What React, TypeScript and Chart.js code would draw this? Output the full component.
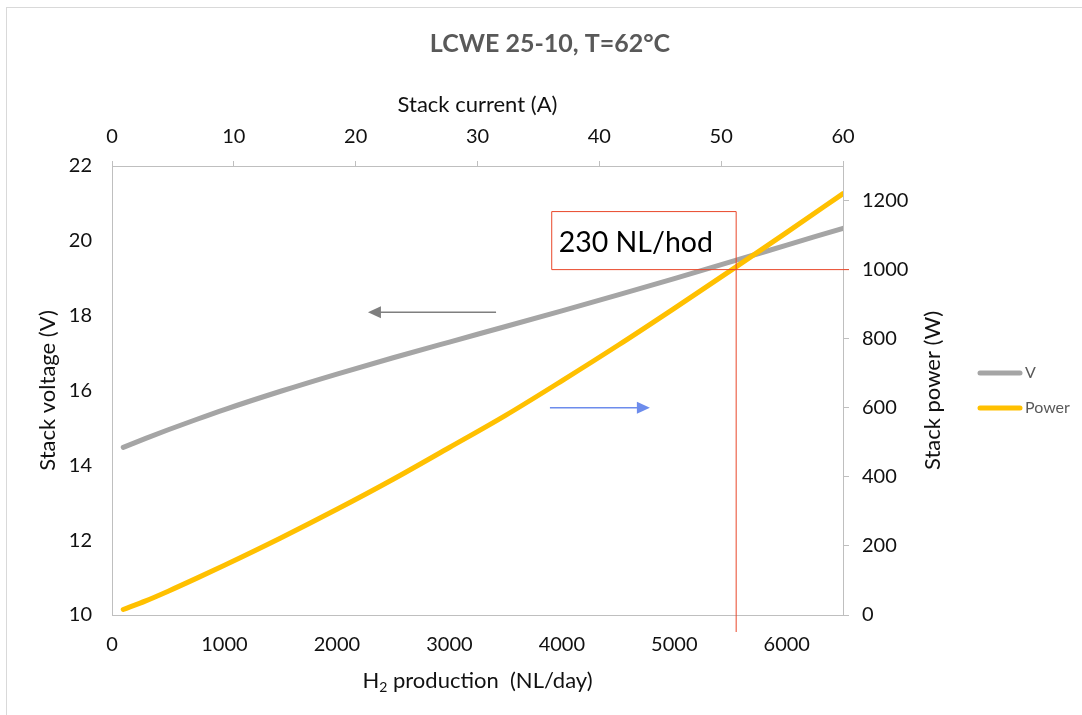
import React, { useEffect, useRef } from 'react';
import { Chart, registerables } from 'chart.js';

Chart.register(...registerables);

// ---- data ----
const h2Production = [100, 300, 500, 750, 1000, 1500, 2000, 2500, 3000, 3500, 4000, 4500, 5000, 5500, 6000, 6500];
const stackVoltage = [14.48, 14.72, 14.95, 15.225, 15.49, 15.98, 16.44, 16.875, 17.295, 17.71, 18.13, 18.555, 18.99, 19.435, 19.885, 20.335];
const stackPower = [16, 41, 69, 106, 144, 223, 306, 393, 485, 578, 678, 781, 888, 997, 1108, 1220];

const h2Ticks = [0, 1000, 2000, 3000, 4000, 5000, 6000];
const currentTicks = [0, 10, 20, 30, 40, 50, 60];
const voltageTicks = [10, 12, 14, 16, 18, 20, 22];
const powerTicks = [0, 200, 400, 600, 800, 1000, 1200];

const seriesLabels = ['V', 'Power'];
const titleText = 'LCWE 25-10, T=62°C';
const topAxisTitle = 'Stack current (A)';
const leftAxisTitle = 'Stack voltage (V)';
const rightAxisTitle = 'Stack power (W)';
const bottomAxisTitleMain = 'H';
const bottomAxisTitleSub = '2';
const bottomAxisTitleRest = ' production  (NL/day)';

// annotation values (data coordinates)
const markH2 = 5550; // NL/day
const markPower = 1000; // W
const boxLeftH2 = 3910;
const boxTopPower = 1168;
const boxText = '230 NL/hod';
const voltArrow = { fromH2: 3415, toH2: 2276, volt: 18.09 };
const powerArrow = { fromH2: 3894, toH2: 4783, power: 600 };

const FONT = 'Lato, "Open Sans", sans-serif';
const GRAY = '#a5a5a5';
const YELLOW = '#ffc000';
const AXIS = '#bfbfbf';
const RED = '#e9472a';
const TEXT = '#111111';

function arrow(ctx: CanvasRenderingContext2D, x1: number, x2: number, y: number, color: string) {
  const dir = Math.sign(x2 - x1);
  const head = 13;
  ctx.save();
  ctx.strokeStyle = color;
  ctx.fillStyle = color;
  ctx.lineWidth = 1.5;
  ctx.beginPath();
  ctx.moveTo(x1, y);
  ctx.lineTo(x2 - dir * head * 0.7, y);
  ctx.stroke();
  ctx.beginPath();
  ctx.moveTo(x2, y);
  ctx.lineTo(x2 - dir * head, y - 6);
  ctx.lineTo(x2 - dir * head, y + 6);
  ctx.closePath();
  ctx.fill();
  ctx.restore();
}

const setTicks = (values: number[]) => (s: any) => {
  s.ticks = values.map((v) => ({ value: v }));
};

const decorPlugin = {
  id: 'decor',
  beforeDraw(chart: any) {
    const { ctx } = chart;
    ctx.save();
    ctx.fillStyle = '#ffffff';
    ctx.fillRect(0, 0, chart.width, chart.height);
    ctx.strokeStyle = '#d9d9d9';
    ctx.lineWidth = 1;
    ctx.strokeRect(6.5, 7.5, 2000, 2000);
    ctx.restore();
  },
  afterDatasetsDraw(chart: any) {
    const { ctx, scales, chartArea } = chart;
    const x = scales.x;
    const yP = scales.yPower;
    const yV = scales.y;
    const vx = x.getPixelForValue(markH2);
    const hy = yP.getPixelForValue(markPower);
    const bl = x.getPixelForValue(boxLeftH2);
    const bt = yP.getPixelForValue(boxTopPower);
    ctx.save();
    ctx.strokeStyle = RED;
    ctx.lineWidth = 1;
    ctx.beginPath();
    ctx.moveTo(vx, bt);
    ctx.lineTo(vx, chartArea.bottom + 17);
    ctx.moveTo(bl, hy);
    ctx.lineTo(chartArea.right + 6, hy);
    ctx.moveTo(bl, hy);
    ctx.lineTo(bl, bt);
    ctx.lineTo(vx, bt);
    ctx.stroke();
    ctx.fillStyle = '#000';
    ctx.font = `28.5px ${FONT}`;
    ctx.textBaseline = 'middle';
    ctx.textAlign = 'left';
    ctx.fillText(boxText, bl + 7, (bt + hy) / 2 + 2);
    ctx.restore();

    arrow(ctx, x.getPixelForValue(voltArrow.fromH2), x.getPixelForValue(voltArrow.toH2), yV.getPixelForValue(voltArrow.volt), '#7f7f7f');
    arrow(ctx, x.getPixelForValue(powerArrow.fromH2), x.getPixelForValue(powerArrow.toH2), yP.getPixelForValue(powerArrow.power), '#6d8cec');
  },
  afterDraw(chart: any) {
    const { ctx, chartArea } = chart;
    // chart title
    ctx.save();
    ctx.fillStyle = '#595959';
    ctx.font = `bold 25px ${FONT}`;
    ctx.textAlign = 'center';
    ctx.textBaseline = 'middle';
    ctx.fillText(titleText, 550, 44);
    ctx.restore();

    // right axis title (reads upward)
    ctx.save();
    ctx.fillStyle = TEXT;
    ctx.font = `22px ${FONT}`;
    ctx.textAlign = 'center';
    ctx.textBaseline = 'middle';
    ctx.translate(933, (chartArea.top + chartArea.bottom) / 2);
    ctx.rotate(-Math.PI / 2);
    ctx.fillText(rightAxisTitle, 0, 0);
    ctx.restore();

    // bottom axis title with subscript
    ctx.save();
    ctx.fillStyle = TEXT;
    ctx.textBaseline = 'middle';
    ctx.textAlign = 'left';
    const mainFont = `22px ${FONT}`;
    const subFont = `14px ${FONT}`;
    ctx.font = mainFont;
    const wH = ctx.measureText(bottomAxisTitleMain).width;
    const wRest = ctx.measureText(bottomAxisTitleRest).width;
    ctx.font = subFont;
    const wSub = ctx.measureText(bottomAxisTitleSub).width;
    const total = wH + wSub + wRest;
    const cx = (chartArea.left + chartArea.right) / 2;
    const cy = 681;
    let px = cx - total / 2;
    ctx.font = mainFont;
    ctx.fillText(bottomAxisTitleMain, px, cy);
    px += wH;
    ctx.font = subFont;
    ctx.fillText(bottomAxisTitleSub, px, cy + 6);
    px += wSub;
    ctx.font = mainFont;
    ctx.fillText(bottomAxisTitleRest, px, cy);
    ctx.restore();

    // legend
    ctx.save();
    const rows = [373, 408];
    chart.data.datasets.forEach((ds: any, i: number) => {
      const y = rows[i];
      ctx.strokeStyle = ds.borderColor;
      ctx.lineWidth = 5;
      ctx.lineCap = 'round';
      ctx.beginPath();
      ctx.moveTo(980, y);
      ctx.lineTo(1020, y);
      ctx.stroke();
      ctx.fillStyle = '#595959';
      ctx.font = `16px ${FONT}`;
      ctx.textBaseline = 'middle';
      ctx.textAlign = 'left';
      ctx.fillText(ds.label, 1025, y);
    });
    ctx.restore();
  },
};

export default function App() {
  const ref = useRef<HTMLCanvasElement | null>(null);

  useEffect(() => {
    if (!ref.current) return;
    const tickFont = { family: FONT, size: 20 };
    const titleFont = { family: FONT, size: 22 };
    const plain = (v: any) => String(v);
    const chart = new Chart(ref.current, {
      type: 'line',
      data: {
        datasets: [
          {
            label: seriesLabels[0],
            data: h2Production.map((h, i) => ({ x: h, y: stackVoltage[i] })),
            borderColor: GRAY,
            backgroundColor: GRAY,
            borderWidth: 5,
            borderCapStyle: 'round',
            pointRadius: 0,
            cubicInterpolationMode: 'monotone',
            yAxisID: 'y',
            xAxisID: 'x',
            order: 2,
          },
          {
            label: seriesLabels[1],
            data: h2Production.map((h, i) => ({ x: h, y: stackPower[i] })),
            borderColor: YELLOW,
            backgroundColor: YELLOW,
            borderWidth: 5,
            borderCapStyle: 'round',
            pointRadius: 0,
            cubicInterpolationMode: 'monotone',
            yAxisID: 'yPower',
            xAxisID: 'x',
            order: 1,
          },
        ],
      },
      options: {
        animation: false,
        responsive: false,
        maintainAspectRatio: false,
        layout: { padding: { left: 0, top: 0, right: 129, bottom: 0 } },
        plugins: {
          legend: { display: false },
          tooltip: { enabled: false },
          title: { display: false },
        },
        scales: {
          x: {
            type: 'linear',
            position: 'bottom',
            min: 0,
            max: 6500,
            ticks: { padding: 18, color: TEXT, font: tickFont, callback: plain, autoSkip: false, maxRotation: 0 },
            afterBuildTicks: setTicks(h2Ticks),
            afterFit: (s: any) => { s.height = 100; },
            grid: { display: false, drawTicks: false },
            border: { color: AXIS },
          },
          xTop: {
            type: 'linear',
            position: 'top',
            min: 0,
            max: 60,
            ticks: { padding: 12, color: TEXT, font: tickFont, callback: plain, autoSkip: false, maxRotation: 0 },
            afterBuildTicks: setTicks(currentTicks),
            afterFit: (s: any) => { s.height = 166; },
            grid: { drawOnChartArea: false, drawTicks: true, tickLength: 5, color: AXIS },
            border: { color: AXIS },
            title: { display: true, text: topAxisTitle, color: TEXT, font: titleFont, padding: { top: 91.8, bottom: 0 } },
          },
          y: {
            type: 'linear',
            position: 'left',
            min: 10,
            max: 22,
            ticks: { padding: 20, color: TEXT, font: tickFont, callback: plain, autoSkip: false },
            afterBuildTicks: setTicks(voltageTicks),
            afterFit: (s: any) => { s.width = 112; },
            grid: { display: false, drawTicks: false },
            border: { color: AXIS },
            title: { display: true, text: leftAxisTitle, color: TEXT, font: titleFont, padding: { top: 34.8, bottom: 0 } },
          },
          yPower: {
            type: 'linear',
            position: 'right',
            min: 0,
            max: 1300,
            ticks: { padding: 13, color: TEXT, font: tickFont, callback: plain, autoSkip: false },
            afterBuildTicks: setTicks(powerTicks),
            afterFit: (s: any) => { s.width = 110; },
            grid: { drawOnChartArea: false, drawTicks: true, tickLength: 6, color: AXIS },
            border: { color: AXIS },
          },
        },
      } as any,
      plugins: [decorPlugin],
    });
    return () => chart.destroy();
  }, []);

  return (
    <div style={{ position: 'fixed', left: 0, top: 0, width: 1082, height: 715 }}>
      <canvas ref={ref} width={1082} height={715} style={{ width: 1082, height: 715, display: 'block' }} />
    </div>
  );
}
